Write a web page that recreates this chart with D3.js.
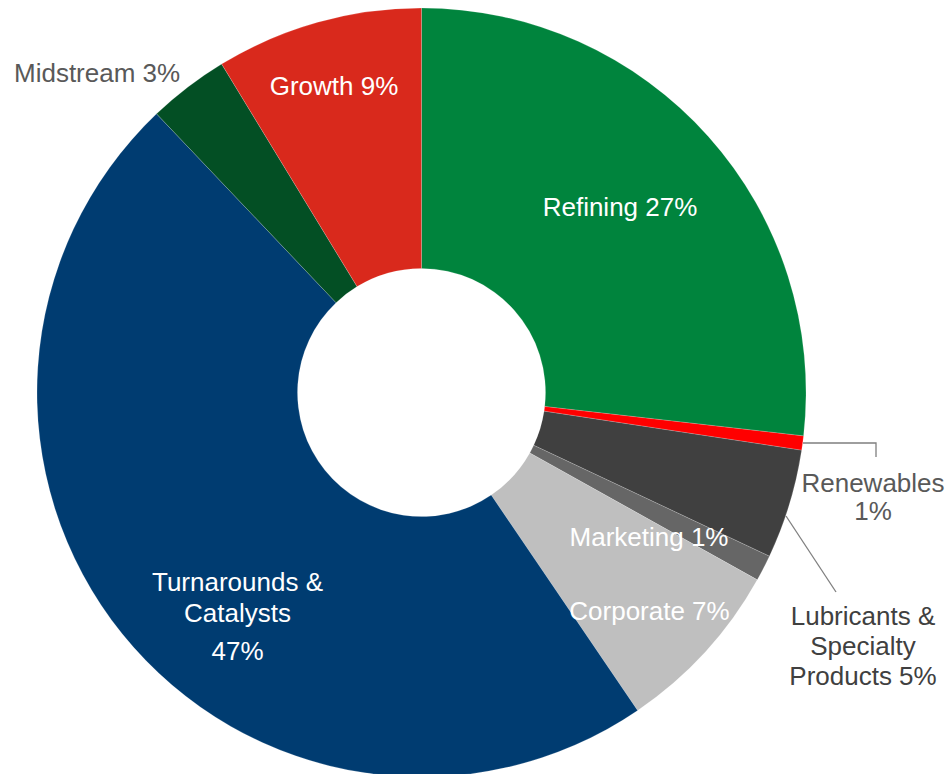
<!DOCTYPE html>
<html>
<head>
<meta charset="utf-8">
<script src="https://cdn.jsdelivr.net/npm/d3@7"></script>
<style>
  html, body { margin: 0; padding: 0; background: #fff; }
  svg { display: block; }
  text { font-family: "Liberation Sans", Arial, sans-serif; }
</style>
</head>
<body>
<div id="chart"></div>
<script>
// ---- Data -------------------------------------------------------------------
// slice shares (percent), clockwise from 12 o'clock
const segments = [
  "Refining", "Renewables", "Lubricants & Specialty Products", "Marketing",
  "Corporate", "Turnarounds & Catalysts", "Midstream", "Growth"
];
const shares = [26.8, 0.6, 4.6, 1.1, 7.4, 47.4, 3.4, 8.7];
// printed percentages as they appear on the chart
const shareLabels = ["27%", "1%", "5%", "1%", "7%", "47%", "3%", "9%"];
const colors = [
  "#00843d", "#ff0000", "#404040", "#666666",
  "#bfbfbf", "#003c71", "#034f24", "#d9291c"
];

// ---- Layout -----------------------------------------------------------------
const width = 947, height = 774;
const cx = 421.5, cy = 392.5;
const outerR = 384.5, innerR = 124;

// label lines (name parts + pct), anchor and baselines in page pixels
const labelLayout = [
  { lines: d => [`Refining ${d}`], x: 620, y: [216], fill: "#fff", anchor: "middle" },
  { lines: d => ["Renewables", d], x: 873, y: [492, 520], fill: "#595959", anchor: "middle",
    leader: [[803, 443], [876, 443], [876, 457]] },
  { lines: d => ["Lubricants &", "Specialty", `Products ${d}`], x: 863, y: [625, 655, 685],
    fill: "#404040", anchor: "middle", leader: [[786, 516], [836, 592]] },
  { lines: d => [`Marketing ${d}`], x: 649, y: [546], fill: "#fff", anchor: "middle" },
  { lines: d => [`Corporate ${d}`], x: 649.5, y: [620], fill: "#fff", anchor: "middle" },
  { lines: d => ["Turnarounds &", "Catalysts", d], x: 237.5, y: [591, 622, 660],
    fill: "#fff", anchor: "middle" },
  { lines: d => [`Midstream ${d}`], x: 14, y: [82], fill: "#595959", anchor: "start" },
  { lines: d => [`Growth ${d}`], x: 334, y: [95], fill: "#fff", anchor: "middle" }
];

const data = segments.map((name, i) => ({
  name, value: shares[i], label: shareLabels[i], color: colors[i], layout: labelLayout[i]
}));

// ---- Draw -------------------------------------------------------------------
const svg = d3.select("#chart").append("svg")
  .attr("width", width)
  .attr("height", height)
  .attr("viewBox", `0 0 ${width} ${height}`);

const pie = d3.pie().sort(null).value(d => d.value);
const arc = d3.arc().innerRadius(innerR).outerRadius(outerR);

svg.append("g")
  .attr("transform", `translate(${cx},${cy})`)
  .selectAll("path")
  .data(pie(data))
  .join("path")
  .attr("d", arc)
  .attr("fill", d => d.data.color)
  .attr("stroke", "#ffffff")
  .attr("stroke-opacity", 0.35)
  .attr("stroke-width", 0.5);

// leader lines for the outside labels
const leaderLine = d3.line();
svg.append("g")
  .selectAll("path")
  .data(data.filter(d => d.layout.leader))
  .join("path")
  .attr("d", d => leaderLine(d.layout.leader))
  .attr("fill", "none")
  .attr("stroke", "#7f7f7f")
  .attr("stroke-width", 1.3);

// labels
const labels = svg.append("g")
  .selectAll("text")
  .data(data)
  .join("text")
  .attr("text-anchor", d => d.layout.anchor)
  .attr("fill", d => d.layout.fill)
  .attr("font-size", 26);

labels.selectAll("tspan")
  .data(d => d.layout.lines(d.label).map((t, i) => ({ t, x: d.layout.x, y: d.layout.y[i] })))
  .join("tspan")
  .attr("x", d => d.x)
  .attr("y", d => d.y)
  .text(d => d.t);
</script>
</body>
</html>
